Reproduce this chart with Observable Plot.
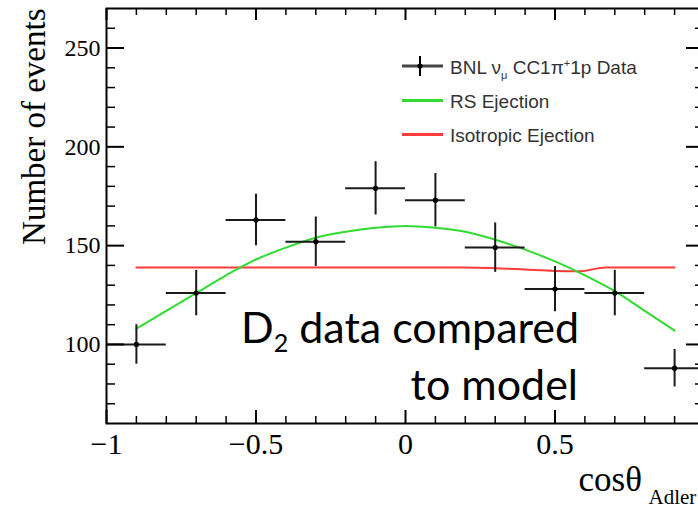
<!DOCTYPE html>
<html>
<head>
<meta charset="utf-8">
<script src="https://cdn.jsdelivr.net/npm/d3@7"></script>
<script src="https://cdn.jsdelivr.net/npm/@observablehq/plot@0.6"></script>
<style>
  html, body { margin: 0; padding: 0; background: #fff; overflow: hidden; }
  #chart svg { display: block; overflow: hidden; }
</style>
</head>
<body>
<div id="chart"></div>
<script>
// BNL D2 data: nu_mu CC 1pi+ 1p events per cos(theta_Adler) bin
const binCenters   = [-0.9, -0.7, -0.5, -0.3, -0.1, 0.1, 0.3, 0.5, 0.7, 0.9];
const binHalfWidth = [0.1, 0.1, 0.1, 0.1, 0.1, 0.1, 0.1, 0.1, 0.1, 0.1];
const eventCounts  = [100, 126, 163, 152, 179, 173, 149, 128, 126, 88];
const countErrors  = [10, 11.5, 13, 12.5, 13.5, 13.5, 12.5, 11.5, 11.5, 9.5];

// Rein-Sehgal ejection model prediction
const rsCos    = [-0.9, -0.8, -0.7, -0.6, -0.5, -0.4, -0.3, -0.2, -0.1, 0, 0.1, 0.2, 0.3, 0.4, 0.5, 0.6, 0.7, 0.8, 0.9];
const rsEvents = [108, 117, 126, 135, 143, 149, 154, 157, 159, 160, 159, 157, 153, 148, 142, 135, 127, 117, 107];

// Isotropic ejection model prediction
const isoCos    = [-0.9, -0.5, 0, 0.2, 0.3, 0.4, 0.5, 0.58, 0.67, 0.9];
const isoEvents = [139, 139, 139, 139, 138.6, 137.9, 137.2, 137, 139, 139];

// Axis ticks
const xMajor = [-1, -0.5, 0, 0.5, 1];
const xMinor = [-0.9, -0.8, -0.7, -0.6, -0.4, -0.3, -0.2, -0.1, 0.1, 0.2, 0.3, 0.4, 0.6, 0.7, 0.8, 0.9];
const xTickLabels = [-1, -0.5, 0, 0.5];
const yMajor = [100, 150, 200, 250];
const yMinor = [70, 80, 90, 110, 120, 130, 140, 160, 170, 180, 190, 210, 220, 230, 240, 260];

const legendLabels = ["BNL ν_μ CC1π^+1p Data", "RS Ejection", "Isotropic Ejection"];

const points = binCenters.map((x, i) => ({x, ex: binHalfWidth[i], y: eventCounts[i], ey: countErrors[i]}));
const rsCurve = rsCos.map((x, i) => ({x, y: rsEvents[i]}));
const isoCurve = isoCos.map((x, i) => ({x, y: isoEvents[i]}));

const W = 698, H = 509;
const mL = 106, mR = -6, mT = 8, mB = 86;
const innerW = W - mL - mR, innerH = H - mT - mB;
const serif = "Liberation Serif, Times New Roman, serif";
const green = "#2fdc2f", red = "#ff3b3b";
const fmt = d => (d < 0 ? "\u2212" : "") + String(Math.abs(d));

const plot = Plot.plot({
  width: W, height: H,
  marginLeft: mL, marginRight: mR, marginTop: mT, marginBottom: mB,
  x: {domain: [-1, 1]},
  y: {domain: [60, 270]},
  style: {fontFamily: serif, background: "#fff", color: "#000"},
  marks: [
    // model curves
    Plot.line(isoCurve, {x: "x", y: "y", stroke: red, strokeWidth: 2, curve: "monotone-x"}),
    Plot.line(rsCurve, {x: "x", y: "y", stroke: green, strokeWidth: 2, curve: "catmull-rom"}),
    // data with error bars
    Plot.ruleY(points, {y: "y", x1: d => d.x - d.ex, x2: d => d.x + d.ex, stroke: "#1a1a1a", strokeWidth: 2}),
    Plot.ruleX(points, {x: "x", y1: d => d.y - d.ey, y2: d => d.y + d.ey, stroke: "#1a1a1a", strokeWidth: 2}),
    Plot.dot(points, {x: "x", y: "y", r: 2.6, fill: "#000"}),
    // frame and inward ticks on all four sides
    Plot.frame({stroke: "#000", strokeWidth: 2}),
    Plot.tickX(xMajor, {x: d => d, insetTop: innerH - 13, stroke: "#000", strokeWidth: 2}),
    Plot.tickX(xMinor, {x: d => d, insetTop: innerH - 7, stroke: "#000", strokeWidth: 1.5}),
    Plot.tickX(xMajor, {x: d => d, insetBottom: innerH - 12, stroke: "#000", strokeWidth: 2}),
    Plot.tickX(xMinor, {x: d => d, insetBottom: innerH - 7, stroke: "#000", strokeWidth: 1.5}),
    Plot.tickY(yMajor, {y: d => d, insetRight: innerW - 18, stroke: "#000", strokeWidth: 2}),
    Plot.tickY(yMinor, {y: d => d, insetRight: innerW - 9, stroke: "#000", strokeWidth: 1.5}),
    Plot.tickY(yMajor, {y: d => d, insetLeft: innerW - 18, stroke: "#000", strokeWidth: 2}),
    Plot.tickY(yMinor, {y: d => d, insetLeft: innerW - 9, stroke: "#000", strokeWidth: 1.5}),
    // tick labels
    Plot.axisX({ticks: xTickLabels, tickFormat: fmt, tickSize: 0, tickPadding: 9, fontSize: 30, label: null, fontFamily: serif}),
    Plot.axisY({ticks: yMajor, tickFormat: fmt, tickSize: 0, tickPadding: 6, fontSize: 24, label: null, fontFamily: serif}),
    // axis titles
    Plot.text(["Number of events"], {frameAnchor: "top-left", rotate: -90, textAnchor: "end", lineAnchor: "bottom", dx: -62, fontSize: 33, fontFamily: serif, fill: "#000"}),
    Plot.text(["cosθ"], {frameAnchor: "bottom-right", textAnchor: "start", lineAnchor: "bottom", dx: -126, dy: 67, fontSize: 35, fontFamily: serif, fill: "#000"}),
    Plot.text(["Adler"], {frameAnchor: "bottom-right", textAnchor: "start", lineAnchor: "bottom", dx: -56, dy: 80, fontSize: 21, fontFamily: serif, fill: "#000"})
  ]
});

document.getElementById("chart").appendChild(plot);

// Legend, top right inside the frame
const svg = d3.select(plot);
const lg = svg.append("g")
  .attr("font-family", "Liberation Sans, Arial, sans-serif")
  .attr("font-size", 19)
  .attr("text-anchor", "start")
  .attr("fill", "#333");
const rowY = [66, 100.5, 134.5];
const keyX0 = 402, keyX1 = 443, textX = 450;

// row 1: data marker
lg.append("line").attr("x1", keyX0).attr("x2", keyX1).attr("y1", rowY[0]).attr("y2", rowY[0])
  .attr("stroke", "#444").attr("stroke-width", 3);
lg.append("line").attr("x1", 420).attr("x2", 420).attr("y1", rowY[0] - 10).attr("y2", rowY[0] + 10)
  .attr("stroke", "#000").attr("stroke-width", 2);
lg.append("circle").attr("cx", 420).attr("cy", rowY[0]).attr("r", 2.6).attr("fill", "#000");
const t1 = lg.append("text").attr("x", textX).attr("y", rowY[0] + 8);
const [pre, rest] = legendLabels[0].split("_");
const hat = rest.indexOf("^");
t1.append("tspan").text(pre);
t1.append("tspan").attr("font-size", 11).attr("dy", 5).text(rest.slice(0, 1));
t1.append("tspan").attr("dy", -5).text(rest.slice(1, hat));
t1.append("tspan").attr("font-size", 11).attr("dy", -7).text(rest.slice(hat + 1, hat + 2));
t1.append("tspan").attr("dy", 7).text(rest.slice(hat + 2));

// rows 2 and 3: model lines
[[green, 1], [red, 2]].forEach(([c, i]) => {
  lg.append("line").attr("x1", keyX0).attr("x2", keyX1).attr("y1", rowY[i]).attr("y2", rowY[i])
    .attr("stroke", c).attr("stroke-width", 3);
  lg.append("text").attr("x", textX).attr("y", rowY[i] + 7).text(legendLabels[i]);
});

// annotation
const note = svg.append("g").attr("font-family", "Lato, sans-serif").attr("font-size", 43)
  .attr("text-anchor", "start").attr("fill", "#000");
const l1 = note.append("text").attr("x", 241).attr("y", 343);
l1.append("tspan").text("D");
l1.append("tspan").attr("font-size", 25).attr("dy", 9).text("2");
l1.append("tspan").attr("dy", -9).text(" data compared");
note.append("text").attr("x", 578).attr("y", 400).attr("text-anchor", "end").text("to model");
</script>
</body>
</html>
